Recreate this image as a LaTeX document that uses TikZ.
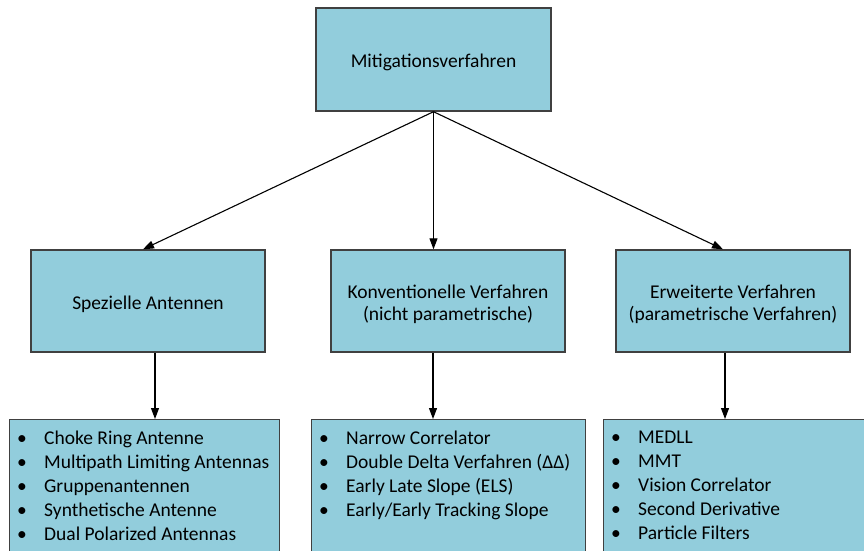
\documentclass[tikz,border=0pt]{standalone}
\usepackage{fontspec}
\setmainfont{Carlito}
\usetikzlibrary{arrows.meta}

\definecolor{boxfill}{RGB}{146,205,220}
\definecolor{boxline}{RGB}{64,64,64}

\tikzset{
  catbox/.style={draw=boxline, line width=1.4pt, fill=boxfill,
    minimum width=234pt, minimum height=102pt, inner sep=0pt},
  cattext/.style={inner sep=0pt, align=center,
    font=\fontsize{19.5}{22}\selectfont},
  listbox/.style={draw=boxline, line width=1.4pt, fill=boxfill,
    anchor=north west, inner sep=0pt, minimum height=200pt},
  listtext/.style={anchor=north west, inner sep=0pt, align=left,
    font=\fontsize{19.5}{24}\selectfont},
  link/.style={line width=1.1pt, -{Triangle[length=11pt,width=8pt]}}
}
\newcommand{\itm}[1]{\makebox[27pt][l]{\textbullet}#1}

\begin{document}
\begin{tikzpicture}[x=1pt,y=-1pt]
  \useasboundingbox (0,0) rectangle (864,550);
  \clip (0,0) rectangle (864,550);

  % root and the three categories
  \node[catbox, minimum width=235pt, minimum height=103pt] (root) at (433.5,59.5) {};
  \node[catbox] (ant) at (148,301) {};
  \node[catbox] (conv) at (448,301) {};
  \node[catbox] (ext) at (733,301) {};

  \node[cattext] (roottext) at ([yshift=-3pt]root.center) {Mitigationsverfahren};
  \node[cattext] (anttext) at ([yshift=-3pt]ant.center) {Spezielle Antennen};
  \node[cattext] (convtext) at ([yshift=-3pt]conv.center) {Konventionelle Verfahren\\(nicht parametrische)};
  \node[cattext] (exttext) at ([yshift=-3pt]ext.center) {Erweiterte Verfahren\\(parametrische Verfahren)};

  % lists of methods
  \node[listbox, minimum width=270pt] (antlist) at (9,419) {};
  \node[listbox, minimum width=274pt] (convlist) at (311,419) {};
  \node[listbox, minimum width=300pt] (extlist) at (603,419) {};

  \node[listtext] (antitems) at (17,431) {%
    \itm{Choke Ring Antenne}\\
    \itm{Multipath Limiting Antennas}\\
    \itm{Gruppenantennen}\\
    \itm{Synthetische Antenne}\\
    \itm{Dual Polarized Antennas}};
  \node[listtext] (convitems) at (319,431) {%
    \itm{Narrow Correlator}\\
    \itm{Double Delta Verfahren (ΔΔ)}\\
    \itm{Early Late Slope (ELS)}\\
    \itm{Early/Early Tracking Slope}};
  \node[listtext] (extitems) at (611,431) {%
    \itm{MEDLL}\\
    \itm{MMT}\\
    \itm{Vision Correlator}\\
    \itm{Second Derivative}\\
    \itm{Particle Filters}};

  % connectors
  \draw[link] (root.south) -- ([xshift=-5pt]ant.north);
  \draw[link] (root.south) -- (root.south |- conv.north);
  \draw[link] (root.south) -- ([xshift=-10pt]ext.north);

  \draw[link] ([xshift=7pt]ant.south) -- ([xshift=7pt]ant.south |- antlist.north);
  \draw[link] ([xshift=-15pt]conv.south) -- ([xshift=-15pt]conv.south |- convlist.north);
  \draw[link] ([xshift=-8pt]ext.south) -- ([xshift=-8pt]ext.south |- extlist.north);
\end{tikzpicture}
\end{document}
